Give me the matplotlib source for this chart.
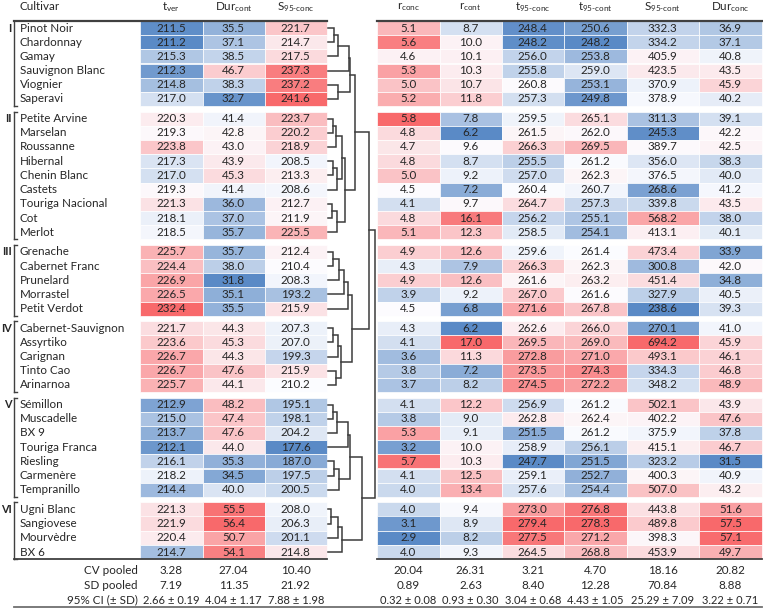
import numpy as np
import matplotlib.pyplot as plt
from matplotlib.colors import LinearSegmentedColormap, TwoSlopeNorm
from matplotlib.patches import Rectangle

plt.rcParams['font.family'] = ['Lato', 'DejaVu Sans']
plt.rcParams['mathtext.fontset'] = 'custom'
plt.rcParams['mathtext.rm'] = 'Lato'
plt.rcParams['mathtext.it'] = 'Lato'

# --- data ---
groups = ['I', 'II', 'III', 'IV', 'V', 'VI']
group_sizes = [6, 9, 5, 5, 7, 4]
cultivars = ['Pinot Noir', 'Chardonnay', 'Gamay', 'Sauvignon Blanc', 'Viognier', 'Saperavi',
             'Petite Arvine', 'Marselan', 'Roussanne', 'Hibernal', 'Chenin Blanc', 'Castets',
             'Touriga Nacional', 'Cot', 'Merlot',
             'Grenache', 'Cabernet Franc', 'Prunelard', 'Morrastel', 'Petit Verdot',
             'Cabernet-Sauvignon', 'Assyrtiko', 'Carignan', 'Tinto Cao', 'Arinarnoa',
             'Sémillon', 'Muscadelle', 'BX 9', 'Touriga Franca', 'Riesling', 'Carmenère', 'Tempranillo',
             'Ugni Blanc', 'Sangiovese', 'Mourvèdre', 'BX 6']

left_headers = [r'$\mathregular{t_{ver}}$', r'$\mathregular{Dur_{cont}}$', r'$\mathregular{S_{95‐conc}}$']
right_headers = [r'$\mathregular{r_{conc}}$', r'$\mathregular{r_{cont}}$', r'$\mathregular{t_{95‐conc}}$',
                 r'$\mathregular{t_{95‐cont}}$', r'$\mathregular{S_{95‐cont}}$', r'$\mathregular{Dur_{conc}}$']

t_ver = [211.5, 211.2, 215.3, 212.3, 214.8, 217.0,
         220.3, 219.3, 223.8, 217.3, 217.0, 219.3, 221.3, 218.1, 218.5,
         225.7, 224.4, 226.9, 226.5, 232.4,
         221.7, 223.6, 226.7, 226.7, 225.7,
         212.9, 215.0, 213.7, 212.1, 216.1, 218.2, 214.4,
         221.3, 221.9, 220.4, 214.7]
dur_cont = [35.5, 37.1, 38.5, 46.7, 38.3, 32.7,
            41.4, 42.8, 43.0, 43.9, 45.3, 41.4, 36.0, 37.0, 35.7,
            35.7, 38.0, 31.8, 35.1, 35.5,
            44.3, 45.3, 44.3, 47.6, 44.1,
            48.2, 47.4, 47.6, 44.0, 35.3, 34.5, 40.0,
            55.5, 56.4, 50.7, 54.1]
s95_conc = [221.7, 214.7, 217.5, 237.3, 237.2, 241.6,
            223.7, 220.2, 218.9, 208.5, 213.3, 208.6, 212.7, 211.9, 225.5,
            212.4, 210.4, 208.3, 193.2, 215.9,
            207.3, 207.0, 199.3, 215.9, 210.2,
            195.1, 198.1, 204.2, 177.6, 187.0, 197.5, 200.5,
            208.0, 206.3, 201.1, 214.8]
r_conc = [5.1, 5.6, 4.6, 5.3, 5.0, 5.2,
          5.8, 4.8, 4.7, 4.8, 5.0, 4.5, 4.1, 4.8, 5.1,
          4.9, 4.3, 4.9, 3.9, 4.5,
          4.3, 4.1, 3.6, 3.8, 3.7,
          4.1, 3.8, 5.3, 3.2, 5.7, 4.1, 4.0,
          4.0, 3.1, 2.9, 4.0]
r_cont = [8.7, 10.0, 10.1, 10.3, 10.7, 11.8,
          7.8, 6.2, 9.6, 8.7, 9.2, 7.2, 9.7, 16.1, 12.3,
          12.6, 7.9, 12.6, 9.2, 6.8,
          6.2, 17.0, 11.3, 7.2, 8.2,
          12.2, 9.0, 9.1, 10.0, 10.3, 12.5, 13.4,
          9.4, 8.9, 8.2, 9.3]
t95_conc = [248.4, 248.2, 256.0, 255.8, 260.8, 257.3,
            259.5, 261.5, 266.3, 255.5, 257.0, 260.4, 264.7, 256.2, 258.5,
            259.6, 266.3, 261.6, 267.0, 271.6,
            262.6, 269.5, 272.8, 273.5, 274.5,
            256.9, 262.8, 251.5, 258.9, 247.7, 259.1, 257.6,
            273.0, 279.4, 277.5, 264.5]
t95_cont = [250.6, 248.2, 253.8, 259.0, 253.1, 249.8,
            265.1, 262.0, 269.5, 261.2, 262.3, 260.7, 257.3, 255.1, 254.1,
            261.4, 262.3, 263.2, 261.6, 267.8,
            266.0, 269.0, 271.0, 274.3, 272.2,
            261.2, 262.4, 261.2, 256.1, 251.5, 252.7, 254.4,
            276.8, 278.3, 271.2, 268.8]
s95_cont = [332.3, 334.2, 405.9, 423.5, 370.9, 378.9,
            311.3, 245.3, 389.7, 356.0, 376.5, 268.6, 339.8, 568.2, 413.1,
            473.4, 300.8, 451.4, 327.9, 238.6,
            270.1, 694.2, 493.1, 334.3, 348.2,
            502.1, 402.2, 375.9, 415.1, 323.2, 400.3, 507.0,
            443.8, 489.8, 398.3, 453.9]
dur_conc = [36.9, 37.1, 40.8, 43.5, 45.9, 40.2,
            39.1, 42.2, 42.5, 38.3, 40.0, 41.2, 43.5, 38.0, 40.1,
            33.9, 42.0, 34.8, 40.5, 39.3,
            41.0, 45.9, 46.1, 46.8, 48.9,
            43.9, 47.6, 37.8, 46.7, 31.5, 40.9, 43.2,
            51.6, 57.5, 57.1, 49.7]

stat_labels = ['CV pooled', 'SD pooled', '95% CI (± SD)']
cv_pooled = ['3.28', '27.04', '10.40', '20.04', '26.31', '3.21', '4.70', '18.16', '20.82']
sd_pooled = ['7.19', '11.35', '21.92', '0.89', '2.63', '8.40', '12.28', '70.84', '8.88']
ci95 = ['2.66 ± 0.19', '4.04 ± 1.17', '7.88 ± 1.98', '0.32 ± 0.08', '0.93 ± 0.30',
        '3.04 ± 0.68', '4.43 ± 1.05', '25.29 ± 7.09', '3.22 ± 0.71']

# hierarchical clustering merges (child a, child b, linkage distance), new ids from 36
linkage = [(0, 1, 6.3), (36, 2, 10.7), (37, 3, 21.0), (4, 5, 10.7), (38, 39, 22.0),
           (6, 7, 5.0), (41, 8, 8.7), (9, 10, 5.7), (43, 11, 9.0), (42, 44, 14.0),
           (12, 13, 4.7), (46, 14, 9.0), (45, 47, 17.0), (40, 48, 27.3),
           (15, 16, 5.3), (50, 17, 11.3), (51, 18, 16.0), (52, 19, 20.7),
           (20, 21, 5.3), (54, 22, 10.7), (23, 24, 8.0), (55, 56, 13.0), (53, 57, 24.0),
           (49, 58, 41.3),
           (25, 26, 5.3), (60, 27, 9.0), (61, 28, 20.7), (29, 30, 6.0), (63, 31, 11.3),
           (62, 64, 22.0), (32, 33, 3.0), (66, 34, 10.7), (67, 35, 14.7), (65, 68, 34.0),
           (59, 69, 47.3)]

left_data = [t_ver, dur_cont, s95_conc]
right_data = [r_conc, r_cont, t95_conc, t95_cont, s95_cont, dur_conc]

# --- layout ---
W, H = 763, 608
row_h = 14.2
gap = 5.4
y_first = 28
left_edges = [140, 202.5, 264.5, 327]
right_edges = [377, 439.5, 501.5, 564, 626.5, 699, 762]
txt = '#262626'
line_c = '#404040'
fs = 8.4

cmap = LinearSegmentedColormap.from_list('rwb', ['#5A8AC6', '#FCFCFF', '#F8696B'])

fig = plt.figure(figsize=(W / 100, H / 100), dpi=100)
ax = fig.add_axes([0, 0, 1, 1])
ax.set_xlim(0, W)
ax.set_ylim(H, 0)
ax.axis('off')

group_idx = np.repeat(np.arange(len(groups)), group_sizes)
row_y = y_first + np.arange(len(cultivars)) * row_h + group_idx * gap


def draw_block(data, edges):
    for j, col in enumerate(data):
        vals = np.array(col)
        norm = TwoSlopeNorm(vmin=vals.min(), vcenter=np.median(vals), vmax=vals.max())
        x0, x1 = edges[j], edges[j + 1]
        for i, v in enumerate(vals):
            ax.add_patch(Rectangle((x0, row_y[i] - row_h / 2), x1 - x0, row_h,
                                   facecolor=cmap(norm(v)), edgecolor='white', lw=0.5))
            ax.text((x0 + x1) / 2, row_y[i], f'{v:.1f}', ha='center', va='center',
                    fontsize=fs, color=txt)


draw_block(left_data, left_edges)
draw_block(right_data, right_edges)

# cultivar names
for i, name in enumerate(cultivars):
    ax.text(20, row_y[i], name, ha='left', va='center', fontsize=fs, color=txt)

# headers
ax.text(20, 7, 'Cultivar', ha='left', va='center', fontsize=fs, color=txt)
for j, hd in enumerate(left_headers):
    ax.text((left_edges[j] + left_edges[j + 1]) / 2, 7, hd, ha='center', va='center',
            fontsize=fs, color=txt)
for j, hd in enumerate(right_headers):
    ax.text((right_edges[j] + right_edges[j + 1]) / 2, 7, hd, ha='center', va='center',
            fontsize=fs, color=txt)

# group brackets and labels
start = 0
for g, n in enumerate(group_sizes):
    top = row_y[start] - row_h / 2
    bot = row_y[start + n - 1] + row_h / 2
    if g == 0:
        top = 20.5
    ax.plot([13.5, 13.5], [top, bot], color=line_c, lw=1)
    if g > 0:
        ax.plot([13.5, 17], [top, top], color=line_c, lw=1)
    ax.plot([13.5, 17], [bot, bot], color=line_c, lw=1)
    ax.text(11.5, row_y[start], groups[g], ha='right', va='center', fontsize=7.8,
            fontweight='bold', color=txt)
    start += n

# rules
last_bot = row_y[-1] + row_h / 2
for xa, xb in [(13.5, left_edges[-1]), (right_edges[0], right_edges[-1])]:
    ax.plot([xa, xb], [20.5, 20.5], color=line_c, lw=1.6)
    ax.plot([xa, xb], [last_bot, last_bot], color=line_c, lw=1.3)
ax.plot([13.5, right_edges[-1]], [606.5, 606.5], color='#707070', lw=1.3)

# pooled statistics
stat_rows = [cv_pooled, sd_pooled, ci95]
col_centers = [(left_edges[j] + left_edges[j + 1]) / 2 for j in range(3)] + \
              [(right_edges[j] + right_edges[j + 1]) / 2 for j in range(6)]
for k, (lab, vals) in enumerate(zip(stat_labels, stat_rows)):
    ys = 571 + k * 14.5
    ax.text(138, ys, lab, ha='right', va='center', fontsize=fs, color=txt)
    for xc, v in zip(col_centers, vals):
        ax.text(xc, ys, v, ha='center', va='center', fontsize=8 if k == 2 else fs,
                color=txt)

# dendrogram
dx0 = left_edges[-1] + 0.5
dscale = 1.0
pos = {i: (row_y[i], dx0) for i in range(len(cultivars))}
for k, (a, b, d) in enumerate(linkage):
    ya, xa = pos[a]
    yb, xb = pos[b]
    xh = dx0 + d * dscale
    ax.plot([xa, xh, xh, xb], [ya, ya, yb, yb], color='#3c3c3c', lw=1.1,
            solid_joinstyle='miter')
    pos[len(cultivars) + k] = ((ya + yb) / 2, xh)

fig.savefig('out.png', dpi=100)
